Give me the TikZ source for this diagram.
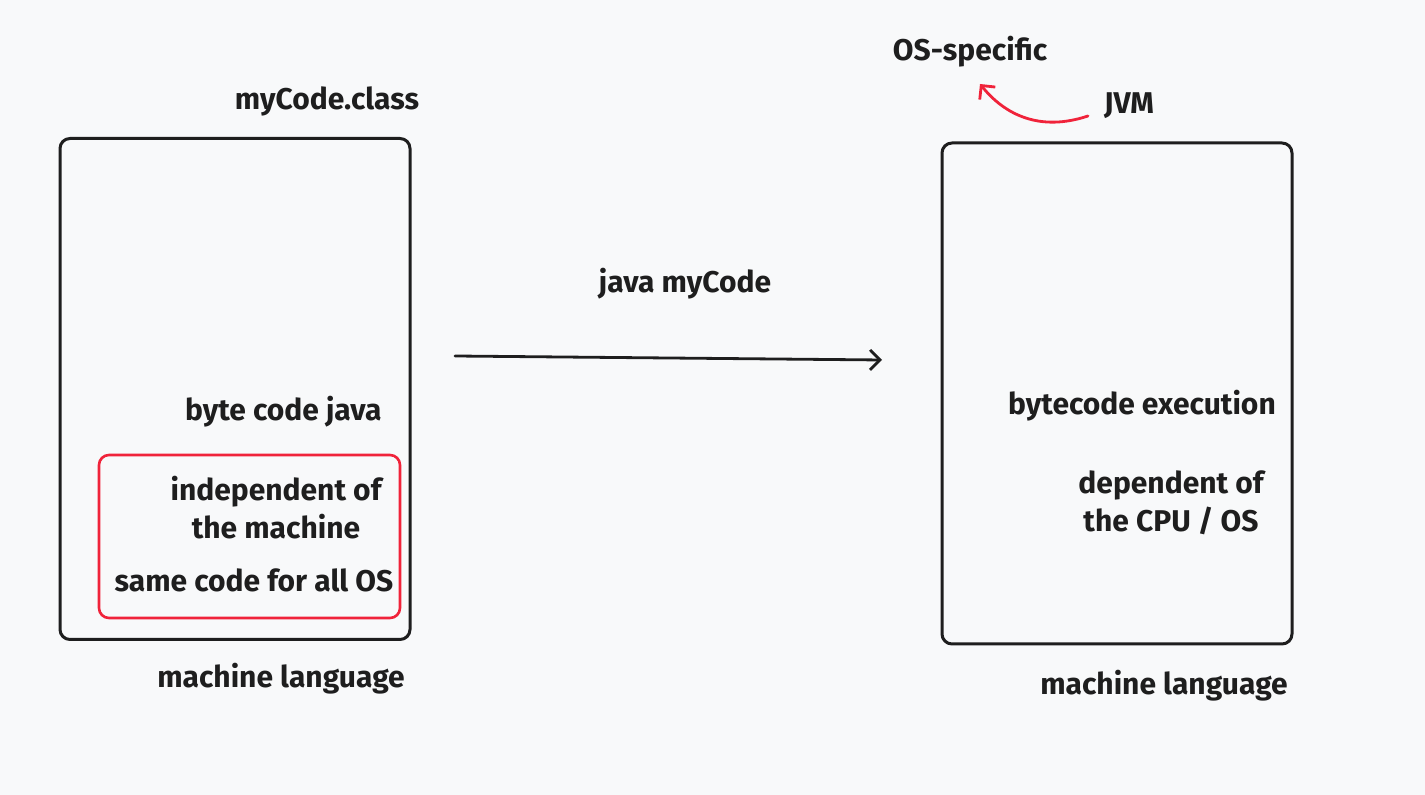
\documentclass[tikz,border=0pt]{standalone}
\usepackage{fontspec}
\setmainfont{Fira Sans}
\usetikzlibrary{arrows.meta}
\definecolor{bg}{HTML}{F8F9FA}
\definecolor{ink}{HTML}{1E1E1E}
\definecolor{exred}{HTML}{F0233A}
\begin{document}
\begin{tikzpicture}[x=0.5pt,y=-0.5pt,
  lbl/.style={text=ink,font=\fontsize{15}{18}\selectfont\bfseries,inner sep=0pt,align=center},
  bigbox/.style={draw=ink,line width=1.5pt,rounded corners=5pt,minimum width=175pt,minimum height=250.5pt,inner sep=0pt},
  redbox/.style={draw=exred,line width=1.3pt,rounded corners=5pt,minimum width=150.5pt,minimum height=81.5pt,inner sep=0pt},
  arr/.style={line width=1.4pt,line cap=round,-{Straight Barb[length=5pt,width=10pt,line width=1.4pt]}}
]
\useasboundingbox[fill=bg] (0,0) rectangle (1425,795);
% boxes
\node[bigbox] (lbox) at (235,389) {};
\node[bigbox] (rbox) at (1117,393.5) {};
\node[redbox] (red) at (249.5,536.5) {};
% left texts
\node[lbl] (myclass) at (327,101) {myCode.class};
\node[lbl,anchor=east] (bcj) at (382,412) {byte code java};
\node[lbl] (indep) at (276,508) {independent of\\[1pt]the machine};
\node[lbl] (same) at (254,580) {same code for all OS};
\node[lbl] (mlL) at (281,679) {machine language};
% middle
\node[lbl] (jmc) at (685,284) {java myCode};
\coordinate (a1) at (455,356);
\coordinate (a2) at (882,360);
\draw[arr,draw=ink] (a1) -- (a2);
% right texts
\node[lbl] (bex) at (1142,406) {bytecode execution};
\node[lbl] (dep) at (1171,503) {dependent of\\[1pt]the CPU / OS};
\node[lbl] (mlR) at (1164,686) {machine language};
\node[lbl] (oss) at (970,52) {OS-specific};
\node[lbl] (jvm) at (1129,106) {JVM};
\coordinate (rt) at (980,84);
\coordinate (rs) at (1088,116);
\draw[arr,draw=exred] (rs) .. controls (1040,132) and (1005,115) .. (rt);
\end{tikzpicture}
\end{document}
